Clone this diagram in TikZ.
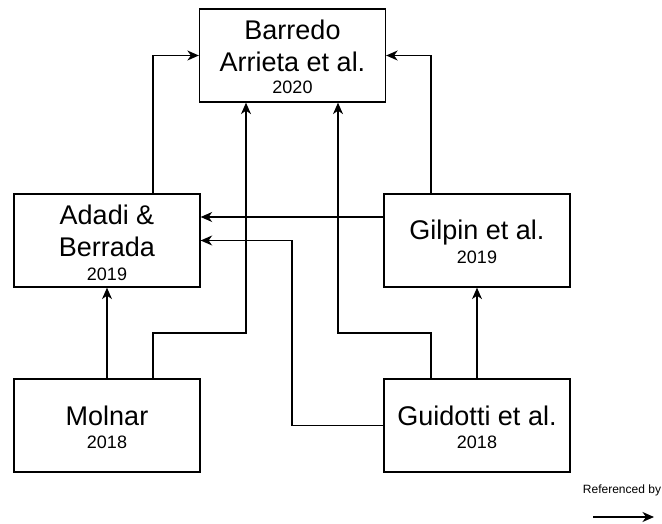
\documentclass[tikz,border=0pt]{standalone}
\usepackage{fontspec}
\setmainfont{Liberation Sans}
\usetikzlibrary{arrows.meta,calc}
\begin{document}
\begin{tikzpicture}[x=1pt,y=-1pt,
  paper/.style={draw=black,line width=1.3pt,fill=white,minimum width=186pt,minimum height=93pt,inner sep=0pt},
  title/.style={anchor=base,inner sep=0pt,font=\fontsize{27}{31}\selectfont},
  year/.style={anchor=base,inner sep=0pt,font=\fontsize{18}{21}\selectfont},
  link/.style={draw=black,line width=1.3pt,-{Stealth[length=11.5pt,width=10pt,inset=3.5pt]}}]
\useasboundingbox (0,0) rectangle (662,524);

% papers
\node[paper] (barredo) at (292.5,55.5) {};
\node[paper] (adadi) at (107,240.5) {};
\node[paper] (gilpin) at (477,240.5) {};
\node[paper] (molnar) at (107,425.5) {};
\node[paper] (guidotti) at (477,425.5) {};

% labels
\node[title] (barredo-a) at (292.5,40) {Barredo};
\node[title] (barredo-b) at (292.5,72) {Arrieta et al.};
\node[year] (barredo-y) at (292.5,94) {2020};
\node[title] (adadi-a) at (107,225) {Adadi \&};
\node[title] (adadi-b) at (107,256) {Berrada};
\node[year] (adadi-y) at (107,280) {2019};
\node[title] (gilpin-a) at (477,240) {Gilpin et al.};
\node[year] (gilpin-y) at (477,263) {2019};
\node[title] (molnar-a) at (107,425) {Molnar};
\node[year] (molnar-y) at (107,448) {2018};
\node[title] (guidotti-a) at (477,425) {Guidotti et al.};
\node[year] (guidotti-y) at (477,448) {2018};

% bends
\coordinate (gbend) at (292,240.5);
\coordinate (mbend) at (246,333);
\coordinate (gbend2) at (338,333);

% references
\draw[link] ([xshift=46pt]adadi.north) |- (barredo.west);
\draw[link] ([xshift=-46pt]gilpin.north) |- (barredo.east);
\draw[link] ([yshift=23.5pt]gilpin.west) coordinate (gw) -- (gw -| adadi.east);
\draw[link] (guidotti.west) -| (gbend) -- (adadi.east);
\draw[link] (molnar.north) -- (adadi.south);
\draw[link] ([xshift=46pt]molnar.north) |- (mbend) -- (mbend |- barredo.south);
\draw[link] ([xshift=-46pt]guidotti.north) |- (gbend2) -- (gbend2 |- barredo.south);
\draw[link] (guidotti.north) -- (gilpin.south);

% legend
\node[inner sep=0pt,font=\fontsize{12}{14}\selectfont] (legend) at (622,490) {Referenced by};
\coordinate (legend-a) at (593,517);
\coordinate (legend-b) at (654,517);
\draw[link] (legend-a) -- (legend-b);
\end{tikzpicture}
\end{document}
